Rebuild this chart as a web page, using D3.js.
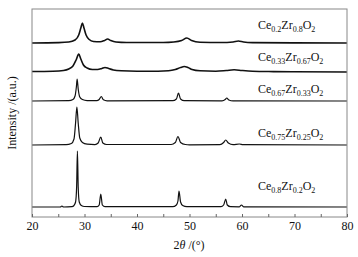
<!DOCTYPE html>
<html>
<head>
<meta charset="utf-8">
<script src="https://cdn.jsdelivr.net/npm/d3@7"></script>
<style>
  body { margin: 0; background: #fff; }
  text, tspan { font-family: "Liberation Serif", "Times New Roman", serif; fill: #111; }
</style>
</head>
<body>
<div id="chart"></div>
<script>
// sample names (subscripts split out) and vertical offsets of each trace
const labels = [
  ["Ce", "0.2", "Zr", "0.8", "O", "2"],
  ["Ce", "0.33", "Zr", "0.67", "O", "2"],
  ["Ce", "0.67", "Zr", "0.33", "O", "2"],
  ["Ce", "0.75", "Zr", "0.25", "O", "2"],
  ["Ce", "0.8", "Zr", "0.2", "O", "2"]
];
const offsets = [174, 145, 116, 72, 10];
const labelLevels = [188, 156, 124, 80, 27];

// traces: [2theta, relative intensity]
const ce02 = [[20,0],[25,0.4],[27,1],[28.2,3],[28.9,8],[29.3,15],[29.6,20],[29.9,15],[30.3,8],[30.9,3.5],[31.7,1.5],[33,1.2],[33.8,2.5],[34.4,4],[35,2.5],[36,1],[38,0.5],[45,0.5],[47,1],[48.5,2.5],[49.5,5],[50.4,2.5],[52,0.8],[56,0.5],[58.3,1],[59.3,2],[60.3,1],[62,0.4],[70,0.1],[80,0]];
const ce033 = [[20,0.5],[24,0.8],[26,1.5],[27,3],[27.8,6],[28.4,12],[28.9,18],[29.3,13],[29.8,7],[30.5,4],[31.5,2.5],[32.5,2.5],[33.3,3.5],[33.9,4.5],[34.6,3.5],[35.5,2],[37,1.2],[40,0.8],[44,0.8],[46,1.2],[47.3,2.5],[48.3,4.5],[49,5.5],[49.7,4.5],[50.5,2.5],[52,1.2],[55,0.8],[57,1.5],[58.5,2.2],[60,1.5],[62,0.8],[66,0.4],[70,0.2],[80,0]];
const ce067 = [[20,0],[27,0.3],[27.8,1.5],[28.2,5],[28.45,14],[28.6,22],[28.8,12],[29.1,4],[29.6,1.5],[30.5,0.4],[32.3,0.3],[32.8,1.5],[33.2,4.5],[33.6,1.2],[34.3,0.2],[46.8,0.3],[47.5,2],[47.9,8],[48.3,2],[49,0.3],[56.2,0.2],[56.8,1.5],[57.1,3],[57.5,1],[58.3,0.1],[80,0]];
const ce075 = [[20,0],[26.5,0.3],[27.5,1.5],[28,6],[28.3,22],[28.55,38],[28.8,22],[29.1,7],[29.6,2.5],[30.5,0.8],[32,0.4],[32.6,2],[33.1,8],[33.5,2],[34.2,0.5],[46.5,0.5],[47.3,2.5],[47.8,8.5],[48.3,2.5],[49.2,0.5],[50,0.2],[55.8,0.3],[56.5,2.5],[56.9,5],[57.4,2],[58.3,0.3],[59.5,1],[60.2,0.3],[80,0]];
const ce08 = [[20,0],[25.4,0],[25.7,1],[26,0],[27.6,0.3],[28,1.5],[28.3,5],[28.5,20],[28.65,56],[28.8,20],[29,5],[29.4,1.5],[30,0.5],[32.4,0.3],[32.8,2],[33.1,13],[33.4,2],[33.9,0.3],[46.8,0.3],[47.5,2],[47.8,6],[48,16],[48.3,5],[48.7,1.5],[49.5,0.3],[56,0.3],[56.5,2],[56.9,8],[57.2,2],[57.8,0.3],[59.5,0.2],[59.9,2],[60.3,0.2],[80,0]];
const traces = [ce02, ce033, ce067, ce075, ce08];

const xTicks = [20, 25, 30, 35, 40, 45, 50, 55, 60, 65, 70, 75, 80];

const width = 358;
const height = 257;
const margin = { left: 32, right: 11, top: 9, bottom: 40 };

const svg = d3.select("#chart").append("svg").attr("width", width).attr("height", height);

const x = d3.scaleLinear().domain([20, 80]).range([margin.left, width - margin.right]);
const y = d3.scaleLinear().domain([0, 208]).range([height - margin.bottom, margin.top]);

const line = d3.line()
  .x((d) => x(d[0]))
  .y((d) => y(d[1]))
  .curve(d3.curveMonotoneX);

traces.forEach((t, i) => {
  svg.append("path")
    .datum(t.map((d) => [d[0], d[1] + offsets[i]]))
    .attr("fill", "none")
    .attr("stroke", "#111")
    .attr("stroke-width", i < 2 ? 1.6 : 1.2)
    .attr("stroke-linejoin", "round")
    .attr("d", line);
});

// sample labels
labels.forEach((parts, i) => {
  const t = svg.append("text")
    .attr("x", 258)
    .attr("y", y(labelLevels[i]))
    .attr("font-size", 12)
    .attr("fill", "#111");
  parts.forEach((p, j) => {
    const ts = t.append("tspan").attr("fill", "#111").text(p);
    if (j % 2 === 1) ts.attr("font-size", 8).attr("dy", 3);
    else if (j > 0) ts.attr("dy", -3);
  });
});

// frame
svg.append("rect")
  .attr("x", margin.left)
  .attr("y", margin.top)
  .attr("width", width - margin.left - margin.right)
  .attr("height", height - margin.top - margin.bottom)
  .attr("fill", "none")
  .attr("stroke", "#888")
  .attr("stroke-width", 1);

const xAxis = d3.axisBottom(x)
  .tickValues(xTicks)
  .tickSizeInner(-3)
  .tickSizeOuter(0)
  .tickPadding(4)
  .tickFormat((d) => (d % 10 === 0 ? d : ""));

const gx = svg.append("g")
  .attr("transform", `translate(0, ${height - margin.bottom})`)
  .call(xAxis);
gx.select(".domain").remove();
gx.selectAll(".tick line").attr("stroke", "#666");
gx.selectAll(".tick text")
  .attr("font-size", 12)
  .attr("fill", "#111");

// axis titles
const xt = svg.append("text")
  .attr("x", 189)
  .attr("y", 249)
  .attr("text-anchor", "middle")
  .attr("font-size", 12);
xt.append("tspan").text("2");
xt.append("tspan").attr("font-style", "italic").text("θ");
xt.append("tspan").text(" /(°)");

svg.append("text")
  .attr("transform", "translate(16, 113) rotate(-90)")
  .attr("text-anchor", "middle")
  .attr("font-size", 12)
  .text("Intensity /(a.u.)");
</script>
</body>
</html>
